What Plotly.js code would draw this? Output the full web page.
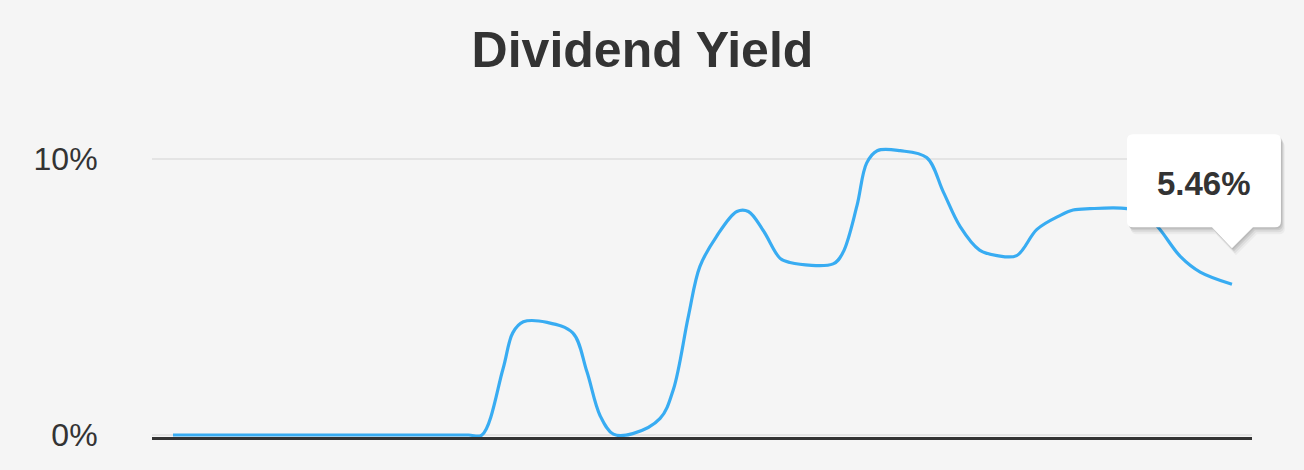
<!DOCTYPE html>
<html>
<head>
<meta charset="utf-8">
<script src="https://cdn.plot.ly/plotly-3.0.1.min.js"></script>
<style>
  html, body { margin: 0; padding: 0; background: #f5f5f5; }
  #chart { width: 1304px; height: 470px; }
</style>
</head>
<body>
<div id="chart"></div>
<script>
// Months since start of series (x) and dividend yield in % (y)
const months = [0, 10, 20, 30, 33.5, 35, 37.4, 38.5, 39.7, 42.4, 45.3, 46.9, 48.4, 49.9, 52.1, 55.2, 56.7, 58.4, 59.7, 61.6, 63.9, 65.2, 66.9, 68.8, 69.9, 74.8, 75.9, 77.5, 78.6, 79.8, 82.4, 85.4, 87.3, 89.2, 91.4, 93.4, 95.6, 97.9, 100.5, 102.0, 103.9, 108.1, 110.1, 111.7, 114.2, 116.4, 120];
const yieldPct = [0, 0, 0, 0, 0, 0, 2.4, 3.7, 4.1, 4.08, 3.7, 2.3, 0.7, 0.03, 0.05, 0.6, 1.65, 4.3, 6.1, 7.2, 8.1, 8.1, 7.4, 6.4, 6.25, 6.2, 6.6, 8.3, 9.85, 10.3, 10.3, 10.05, 8.8, 7.55, 6.7, 6.5, 6.5, 7.45, 7.95, 8.15, 8.2, 8.2, 8.0, 7.5, 6.45, 5.9, 5.46];
const yTickVals = [0, 10];
const yTickText = ['0%', '10%'];
const titleText = 'Dividend Yield';

const xRange = [-2.38, 122.27];
const yRange = [-0.072, 10.507];

const lastX = months[months.length - 1];
const lastY = yieldPct[yieldPct.length - 1];
const ax = (lastX - xRange[0]) / (xRange[1] - xRange[0]);
const ay = (lastY - yRange[0]) / (yRange[1] - yRange[0]);

function calloutPath(dx, dy) {
  const p = (x, y) => (x + dx) + ',' + (y + dy);
  return 'M ' + p(-99, 150) + ' L ' + p(43, 150) + ' Q ' + p(49, 150) + ' ' + p(49, 144) +
    ' L ' + p(49, 63) + ' Q ' + p(49, 57) + ' ' + p(43, 57) +
    ' L ' + p(21, 57) + ' L ' + p(0, 36) + ' L ' + p(-20, 57) +
    ' L ' + p(-99, 57) + ' Q ' + p(-105, 57) + ' ' + p(-105, 63) +
    ' L ' + p(-105, 144) + ' Q ' + p(-105, 150) + ' ' + p(-99, 150) + ' Z';
}
function calloutShape(dx, dy, fill) {
  return {
    type: 'path', xref: 'paper', yref: 'paper', xsizemode: 'pixel', ysizemode: 'pixel',
    xanchor: ax, yanchor: ay, path: calloutPath(dx, dy),
    fillcolor: fill, line: { width: 0 }, layer: 'above'
  };
}

const trace = {
  x: months, y: yieldPct, type: 'scatter', mode: 'lines',
  line: { color: '#38acf2', width: 3.2, shape: 'spline', smoothing: 1 },
  hoverinfo: 'skip'
};

const layout = {
  width: 1304, height: 470,
  paper_bgcolor: '#f5f5f5', plot_bgcolor: '#f5f5f5',
  margin: { l: 152, r: 52, t: 145, b: 33 },
  showlegend: false,
  title: {
    text: '<b>' + titleText + '</b>',
    font: { family: 'Liberation Sans, Arial, sans-serif', size: 50, color: '#333333' },
    x: 0.4927, xref: 'container', xanchor: 'center',
    y: 1 - 49.5 / 470, yref: 'container', yanchor: 'middle'
  },
  xaxis: {
    range: xRange, showgrid: false, zeroline: false, showticklabels: false, ticks: '',
    showline: true, linecolor: '#333333', linewidth: 3, fixedrange: true
  },
  yaxis: {
    range: yRange, tickvals: yTickVals, ticktext: yTickText,
    showgrid: true, gridcolor: '#e4e4e4', gridwidth: 2, zeroline: false,
    ticks: 'outside', ticklen: 47, tickcolor: 'rgba(0,0,0,0)',
    tickfont: { family: 'Liberation Sans, Arial, sans-serif', size: 32, color: '#333333' },
    showline: false, fixedrange: true
  },
  shapes: [
    calloutShape(4, -7, 'rgba(0,0,0,0.04)'),
    calloutShape(3, -5, 'rgba(0,0,0,0.06)'),
    calloutShape(2, -3, 'rgba(0,0,0,0.08)'),
    calloutShape(1, -1.5, 'rgba(0,0,0,0.08)'),
    calloutShape(0, 0, '#ffffff')
  ],
  annotations: [{
    xref: 'paper', yref: 'paper', x: ax, y: ay, xshift: -28, yshift: 101,
    text: '<b>' + lastY.toFixed(2) + '%</b>', showarrow: false,
    xanchor: 'center', yanchor: 'middle',
    font: { family: 'Liberation Sans, Arial, sans-serif', size: 33, color: '#333333' }
  }]
};

Plotly.newPlot('chart', [trace], layout, { displayModeBar: false, staticPlot: true });
</script>
</body>
</html>
